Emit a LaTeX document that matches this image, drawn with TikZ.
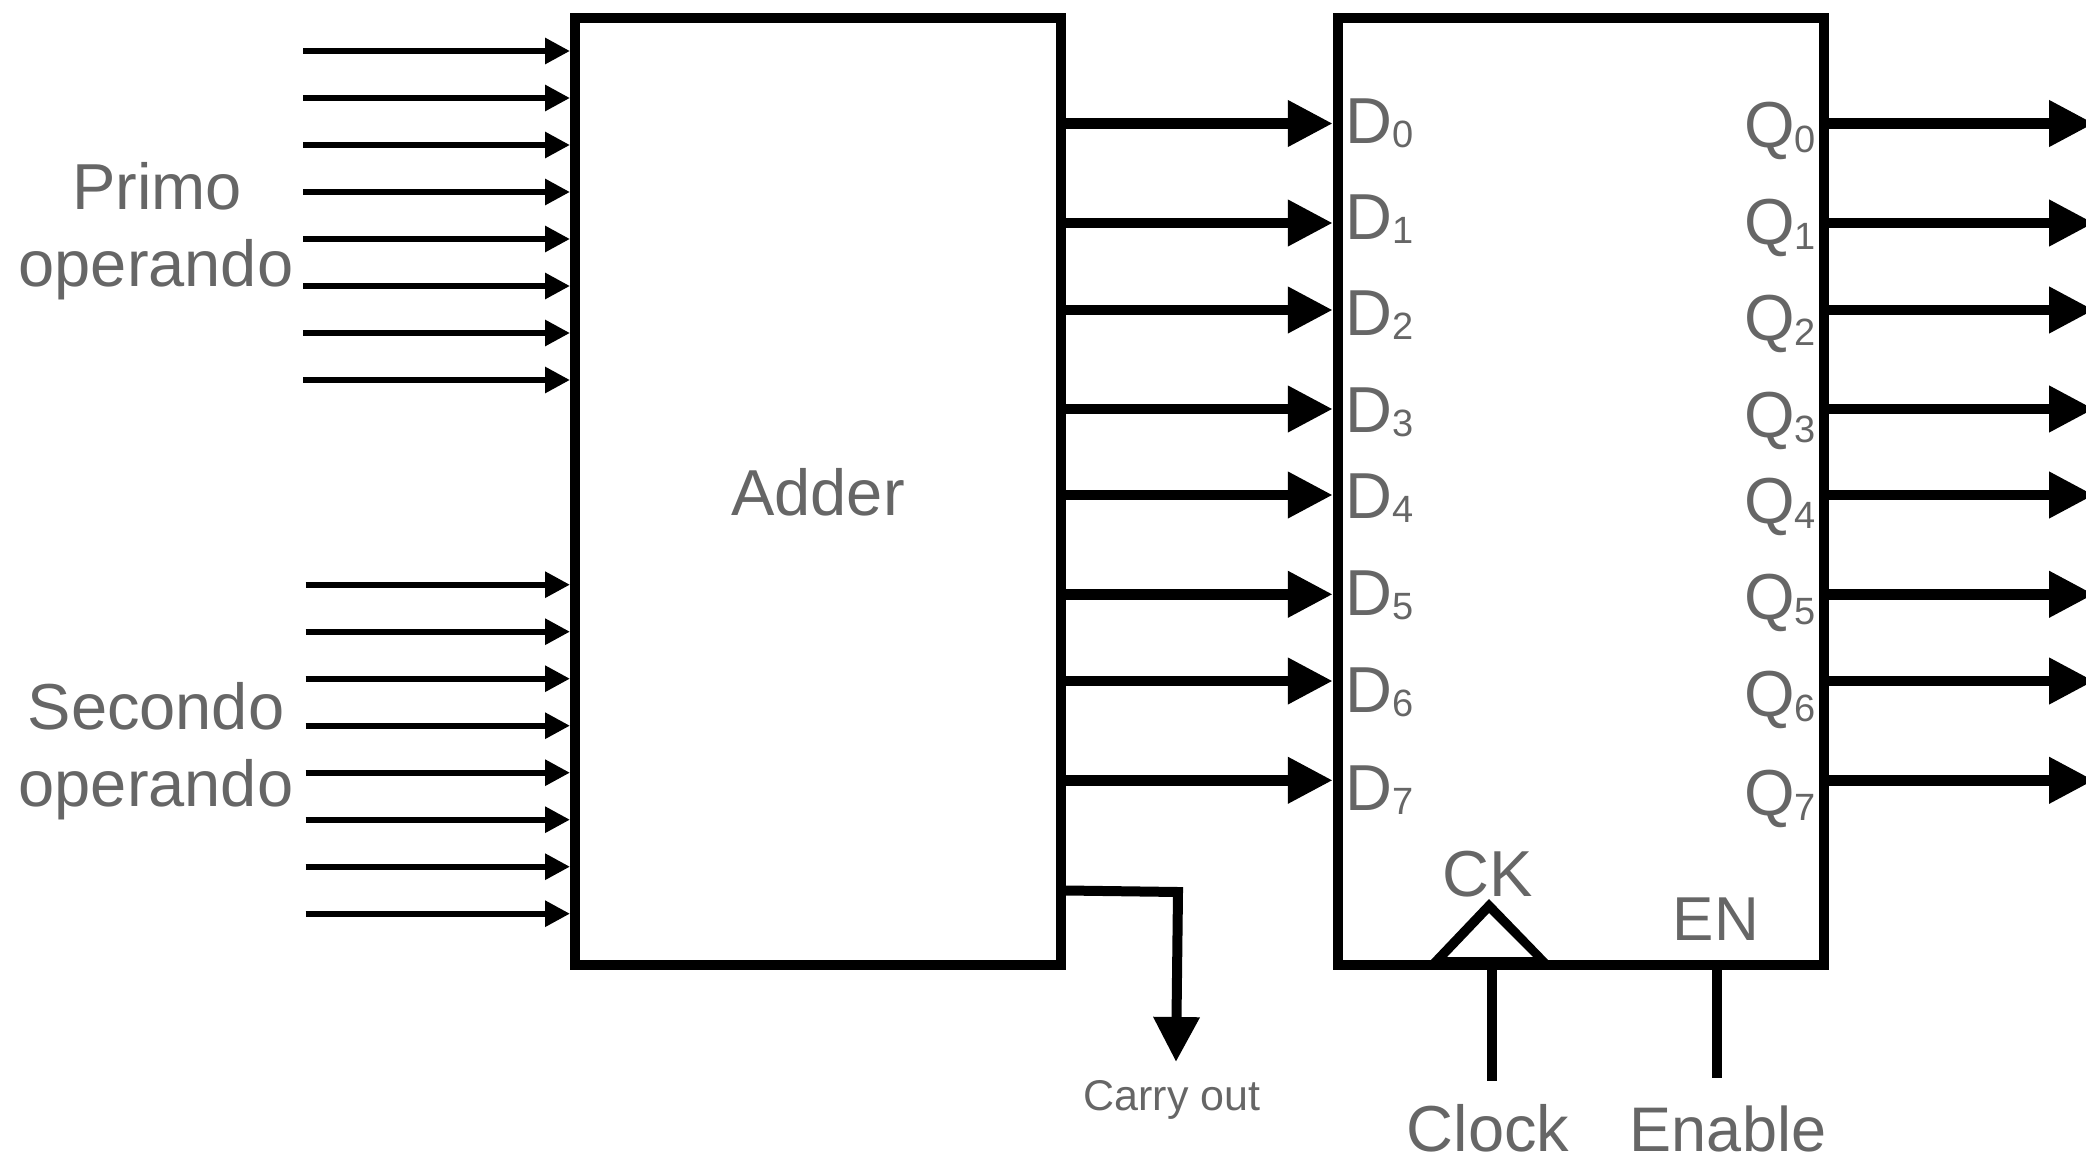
\documentclass[tikz,border=0pt]{standalone}
\usepackage{fontspec}
\setmainfont{Liberation Sans}
\usetikzlibrary{arrows.meta}
\definecolor{labelgrey}{HTML}{666666}
\newcommand{\txtfont}{\fontsize{65}{65}\selectfont}
\newcommand{\portlbl}[3]{#1\raisebox{-#3pt}{\fontsize{38}{38}\selectfont #2}}
\tikzset{
  block/.style={draw=black,line width=10pt,inner sep=0pt,minimum width=486pt},
  label/.style={text=labelgrey,font=\txtfont,inner sep=0pt},
  inarrow/.style={draw=black,line width=6pt,-{Triangle[length=25pt,width=25pt]}},
  busarrow/.style={draw=black,line width=10.5pt,-{Triangle[length=45pt,width=44pt]}},
  ctlline/.style={draw=black,line width=10pt},
}
\begin{document}
\begin{tikzpicture}[x=1pt,y=-1pt]
\useasboundingbox (0,0) rectangle (2086,1156);
\clip (0,0) rectangle (2086,1156);
\node[block,minimum height=947pt,label,text depth=0pt] (adder) at (818,491.5) {Adder};
\node[block,minimum height=947pt] (reg) at (1580.75,491.5) {};
% operand inputs
\foreach \i/\y in {1/51,2/98,3/145,4/192,5/239,6/286,7/333,8/380}{
  \coordinate (a\i) at (303,\y);
  \path[inarrow] (a\i) -- (a\i -| adder.west);
}
\foreach \i/\y in {1/584.7,2/631.7,3/678.7,4/725.7,5/772.7,6/819.7,7/866.7,8/913.7}{
  \coordinate (b\i) at (305.7,\y);
  \path[inarrow] (b\i) -- (b\i -| adder.west);
}
\node[label,anchor=base] (primo) at (157,209) {Primo};
\node[label,anchor=base] (op1) at (156,286) {operando};
\node[label,anchor=base] (secondo) at (156,729) {Secondo};
\node[label,anchor=base] (op2) at (156,806) {operando};
% data bus and register labels
\foreach \i/\y/\dy/\qy in {0/123.5/143/147,1/223/239/244,2/310/335/340,3/409/432/437,4/495/518/523,5/594.3/615/619,6/681/712/716,7/780.3/810/815}{
  \coordinate (p\i) at (1200,\y);
  \coordinate (o\i) at (2094,\y);
  \path[busarrow] (p\i -| adder.east) -- (p\i -| reg.west);
  \path[busarrow] (o\i -| reg.east) -- (o\i);
  \node[label,anchor=base west] (d\i) at (1345,\dy) {\portlbl{D}{\i}{4}};
  \node[label,anchor=base west] (q\i) at (1744,\qy) {\portlbl{Q}{\i}{5}};
}
% carry out
\coordinate (carrystart) at (1066,890.5);
\coordinate (carrybend) at (1178,892);
\coordinate (carryend) at (1176,1062);
\path[busarrow,line width=10pt,miter limit=10] (carrystart) -- (carrybend) -- (carryend);
\node[label,anchor=base,font=\fontsize{43}{43}\selectfont] (carrylbl) at (1172,1110) {Carry out};
% clock triangle
\fill[black,even odd rule] (1429,962) -- (1489,899) -- (1550,962) -- cycle
  (1447,957) -- (1489,913) -- (1533,957) -- cycle;
\node[label,anchor=base] (ck) at (1488,896) {CK};
\node[label,anchor=base,font=\fontsize{62}{62}\selectfont] (en) at (1716,940) {EN};
\coordinate (clkend) at (1492,1081);
\coordinate (enend) at (1716.5,1078);
\draw[ctlline] (clkend |- reg.south) -- (clkend);
\draw[ctlline] (enend |- reg.south) -- (enend);
\node[label,anchor=base] (clock) at (1488,1151.5) {Clock};
\node[label,anchor=base,font=\fontsize{63}{63}\selectfont] (enable) at (1728,1151.5) {Enable};
\end{tikzpicture}
\end{document}
